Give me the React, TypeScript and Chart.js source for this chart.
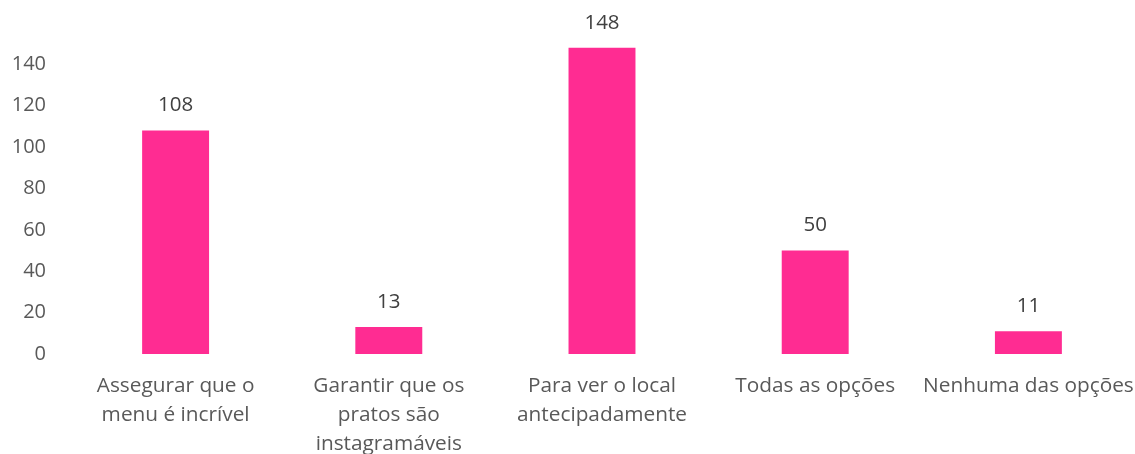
import React, { useEffect, useRef } from "react";
import { Chart, registerables } from "chart.js";

Chart.register(...registerables);

const categories: (string | string[])[] = [
  ["Assegurar que o", "menu é incrível"],
  ["Garantir que os", "pratos são", "instagramáveis"],
  ["Para ver o local", "antecipadamente"],
  "Todas as opções",
  "Nenhuma das opções",
];
const values: number[] = [108, 13, 148, 50, 11];
const yTicks: number[] = [0, 20, 40, 60, 80, 100, 120, 140];

const FONT = "'Open Sans', 'Liberation Sans', sans-serif";
const TEXT = "#595959";
const BAR = "#FF2C92";

const valueLabels = {
  id: "valueLabels",
  afterDatasetsDraw(chart: any) {
    const ctx = chart.ctx;
    const meta = chart.getDatasetMeta(0);
    ctx.save();
    ctx.font = `20.5px ${FONT}`;
    ctx.fillStyle = "#404040";
    ctx.textAlign = "center";
    ctx.textBaseline = "middle";
    meta.data.forEach((el: any, i: number) => {
      ctx.fillText(String(values[i]), el.x, el.y - 25);
    });
    ctx.restore();
  },
};

export default function App() {
  const ref = useRef<HTMLCanvasElement>(null);
  useEffect(() => {
    if (!ref.current) return;
    const chart = new Chart(ref.current, {
      type: "bar",
      data: {
        labels: categories,
        datasets: [
          {
            data: values,
            backgroundColor: BAR,
            barPercentage: 0.314,
            categoryPercentage: 1,
          },
        ],
      },
      options: {
        animation: false,
        responsive: false,
        maintainAspectRatio: false,
        layout: { padding: { top: 23, left: 0, right: 0, bottom: 0 } },
        plugins: { legend: { display: false }, tooltip: { enabled: false } },
        scales: {
          x: {
            grid: { display: false, drawTicks: false },
            border: { display: false },
            ticks: {
              color: TEXT,
              font: { family: FONT, size: 20.8, lineHeight: 1.38 },
              padding: 18,
              maxRotation: 0,
              autoSkip: false,
            },
            afterFit: (s: any) => {
              s.height = 100;
              s.paddingLeft = 0;
              s.paddingRight = 0;
              s.paddingTop = 0;
              s.paddingBottom = 0;
            },
          },
          y: {
            min: 0,
            max: 160,
            grid: { display: false, drawTicks: false },
            border: { display: false },
            afterBuildTicks: (s: any) => {
              s.ticks = yTicks.map((v) => ({ value: v }));
            },
            ticks: {
              color: TEXT,
              font: { family: FONT, size: 20 },
              padding: 23,
            },
            afterFit: (s: any) => {
              s.width = 69;
              s.paddingTop = 0;
              s.paddingBottom = 0;
              s.paddingLeft = 0;
              s.paddingRight = 0;
            },
          },
        },
      },
      plugins: [valueLabels],
    });
    return () => chart.destroy();
  }, []);
  return (
    <div style={{ position: "fixed", left: 0, top: 0, width: 1135, height: 454, background: "#fff" }}>
      <canvas ref={ref} width={1135} height={454} style={{ width: 1135, height: 454 }} />
    </div>
  );
}
